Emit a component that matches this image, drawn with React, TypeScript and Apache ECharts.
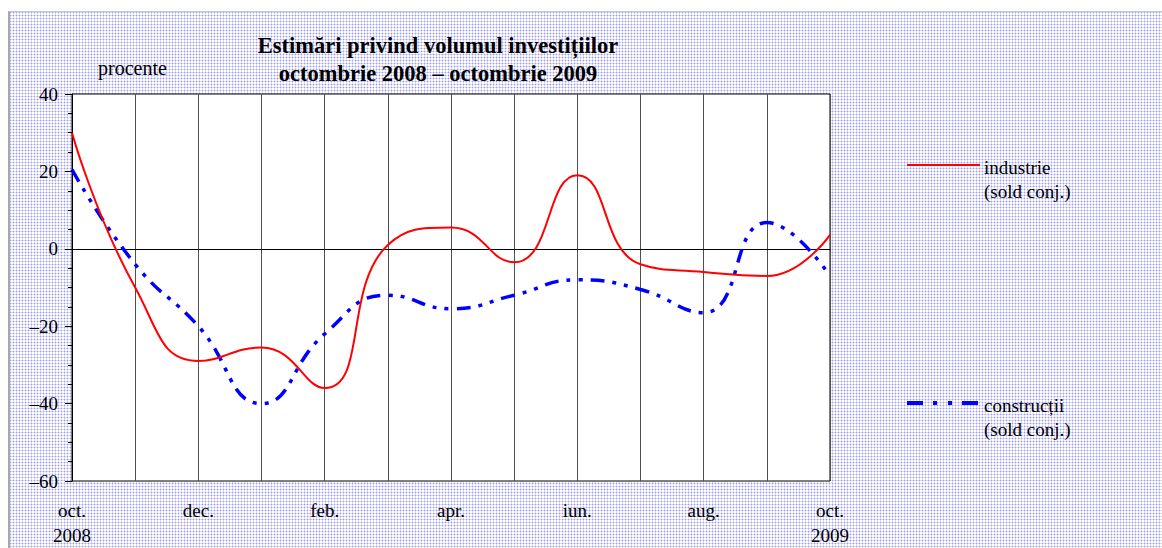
import React, { useEffect, useRef } from "react";
import * as echarts from "echarts";

const months = ["oct.", "nov.", "dec.", "ian.", "feb.", "mar.", "apr.", "mai", "iun.", "iul.", "aug.", "sep.", "oct."];
const yearLabels = ["2008", "", "", "", "", "", "", "", "", "", "", "", "2009"];
const industrie = [30, -10, -29, -25.5, -36, 1, 5.5, -3.5, 19, -4, -6, -7, 3.6];
const constructii = [20.5, -4, -20, -40, -22, -12, -15.5, -12, -8, -10.5, -16.5, 6.8, -7];
const yMin = -60;
const yMax = 40;
const yStep = 20;

const titleLines = ["Estimări privind volumul investițiilor", "octombrie 2008 – octombrie 2009"];
const unitLabel = "procente";
const legendIndustrie = ["industrie", "(sold conj.)"];
const legendConstructii = ["construcții", "(sold conj.)"];

const FONT = "'Liberation Serif', 'Times New Roman', serif";

const patternSvg =
  "<svg xmlns='http://www.w3.org/2000/svg' width='3' height='3'>" +
  "<rect width='3' height='3' fill='#ffffff'/>" +
  "<rect width='1' height='3' fill='#dadaf8'/>" +
  "<rect width='3' height='1' fill='#dadaf8'/>" +
  "<rect width='1' height='1' fill='#9c9cf0'/>" +
  "</svg>";
const patternUrl = `url("data:image/svg+xml,${encodeURIComponent(patternSvg)}")`;

export default function App() {
  const ref = useRef<HTMLDivElement>(null);

  useEffect(() => {
    if (!ref.current) return;
    const chart = echarts.init(ref.current, undefined, { renderer: "svg" });
    const splitColors: string[] = [];
    for (let v = yMin; v <= yMax; v += yStep) splitColors.push(v === 0 ? "#000000" : "transparent");

    chart.setOption({
      animation: false,
      backgroundColor: "transparent",
      grid: {
        left: 72,
        top: 94,
        width: 758,
        height: 388,
        show: true,
        backgroundColor: "#ffffff",
        borderColor: "#000000",
        borderWidth: 1,
      },
      xAxis: {
        type: "category",
        boundaryGap: false,
        data: months,
        axisLine: { show: true, lineStyle: { color: "#000", width: 1 } },
        axisTick: { show: false },
        axisLabel: {
          interval: 1,
          margin: 17,
          color: "#000",
          fontFamily: FONT,
          fontSize: 19,
          lineHeight: 25,
          formatter: (val: string, idx: number) => (yearLabels[idx] ? `${val}\n${yearLabels[idx]}` : val),
        },
        splitLine: { show: true, interval: 0, lineStyle: { color: "#505050", width: 1 } },
      },
      yAxis: {
        type: "value",
        min: yMin,
        max: yMax,
        interval: yStep,
        axisLine: { show: true, lineStyle: { color: "#000", width: 1 } },
        axisTick: { show: true, length: 7, lineStyle: { color: "#000" } },
        minorTick: { show: true, splitNumber: 4, length: 4, lineStyle: { color: "#000" } },
        axisLabel: {
          margin: 14,
          color: "#000",
          fontFamily: FONT,
          fontSize: 19,
          formatter: (v: number) => (v < 0 ? "–" + Math.abs(v) : String(v)),
        },
        splitLine: { show: true, lineStyle: { color: splitColors, width: 1 } },
      },
      series: [
        {
          name: "industrie",
          type: "line",
          data: industrie,
          smooth: 0.5,
          symbol: "none",
          lineStyle: { color: "#ff0000", width: 2 },
          z: 3,
        },
        {
          name: "construcții",
          type: "line",
          data: constructii,
          smooth: 0.5,
          symbol: "none",
          lineStyle: { color: "#0000ff", width: 3.5, type: [14, 8, 4, 8, 4, 8] },
          z: 2,
        },
      ],
      graphic: [
        {
          type: "text",
          x: 438,
          y: 45,
          style: {
            text: titleLines[0],
            font: `bold 22.5px ${FONT}`,
            fill: "#000",
            textAlign: "center",
            textVerticalAlign: "middle",
          },
        },
        {
          type: "text",
          x: 438,
          y: 73,
          style: {
            text: titleLines[1],
            font: `bold 22.5px ${FONT}`,
            fill: "#000",
            textAlign: "center",
            textVerticalAlign: "middle",
          },
        },
        {
          type: "text",
          x: 98,
          y: 68,
          style: {
            text: unitLabel,
            font: `20px ${FONT}`,
            fill: "#000",
            textAlign: "left",
            textVerticalAlign: "middle",
          },
        },
        {
          type: "line",
          shape: { x1: 907, y1: 165, x2: 980, y2: 165 },
          style: { stroke: "#ff0000", lineWidth: 2 },
        },
        {
          type: "text",
          x: 984,
          y: 167,
          style: { text: legendIndustrie[0], font: `19px ${FONT}`, fill: "#000", textVerticalAlign: "middle" },
        },
        {
          type: "text",
          x: 984,
          y: 191,
          style: { text: legendIndustrie[1], font: `19px ${FONT}`, fill: "#000", textVerticalAlign: "middle" },
        },
        {
          type: "line",
          shape: { x1: 907, y1: 403, x2: 980, y2: 403 },
          style: { stroke: "#0000ff", lineWidth: 4, lineDash: [16, 10, 4, 11, 4, 10] },
        },
        {
          type: "text",
          x: 984,
          y: 405,
          style: { text: legendConstructii[0], font: `19px ${FONT}`, fill: "#000", textVerticalAlign: "middle" },
        },
        {
          type: "text",
          x: 984,
          y: 429,
          style: { text: legendConstructii[1], font: `19px ${FONT}`, fill: "#000", textVerticalAlign: "middle" },
        },
      ],
    });
    return () => chart.dispose();
  }, []);

  return (
    <div style={{ position: "absolute", left: 0, top: 0, width: 1162, height: 548, background: "#fff", overflow: "hidden" }}>
      <div
        style={{
          position: "absolute",
          left: 8,
          top: 11,
          right: 0,
          bottom: 0,
          backgroundImage: patternUrl,
          backgroundRepeat: "repeat",
          borderLeft: "2px solid #a8a8a8",
          borderTop: "1px solid #c8c8c8",
        }}
      />
      <div ref={ref} style={{ position: "absolute", left: 0, top: 0, width: 1162, height: 548 }} />
    </div>
  );
}
